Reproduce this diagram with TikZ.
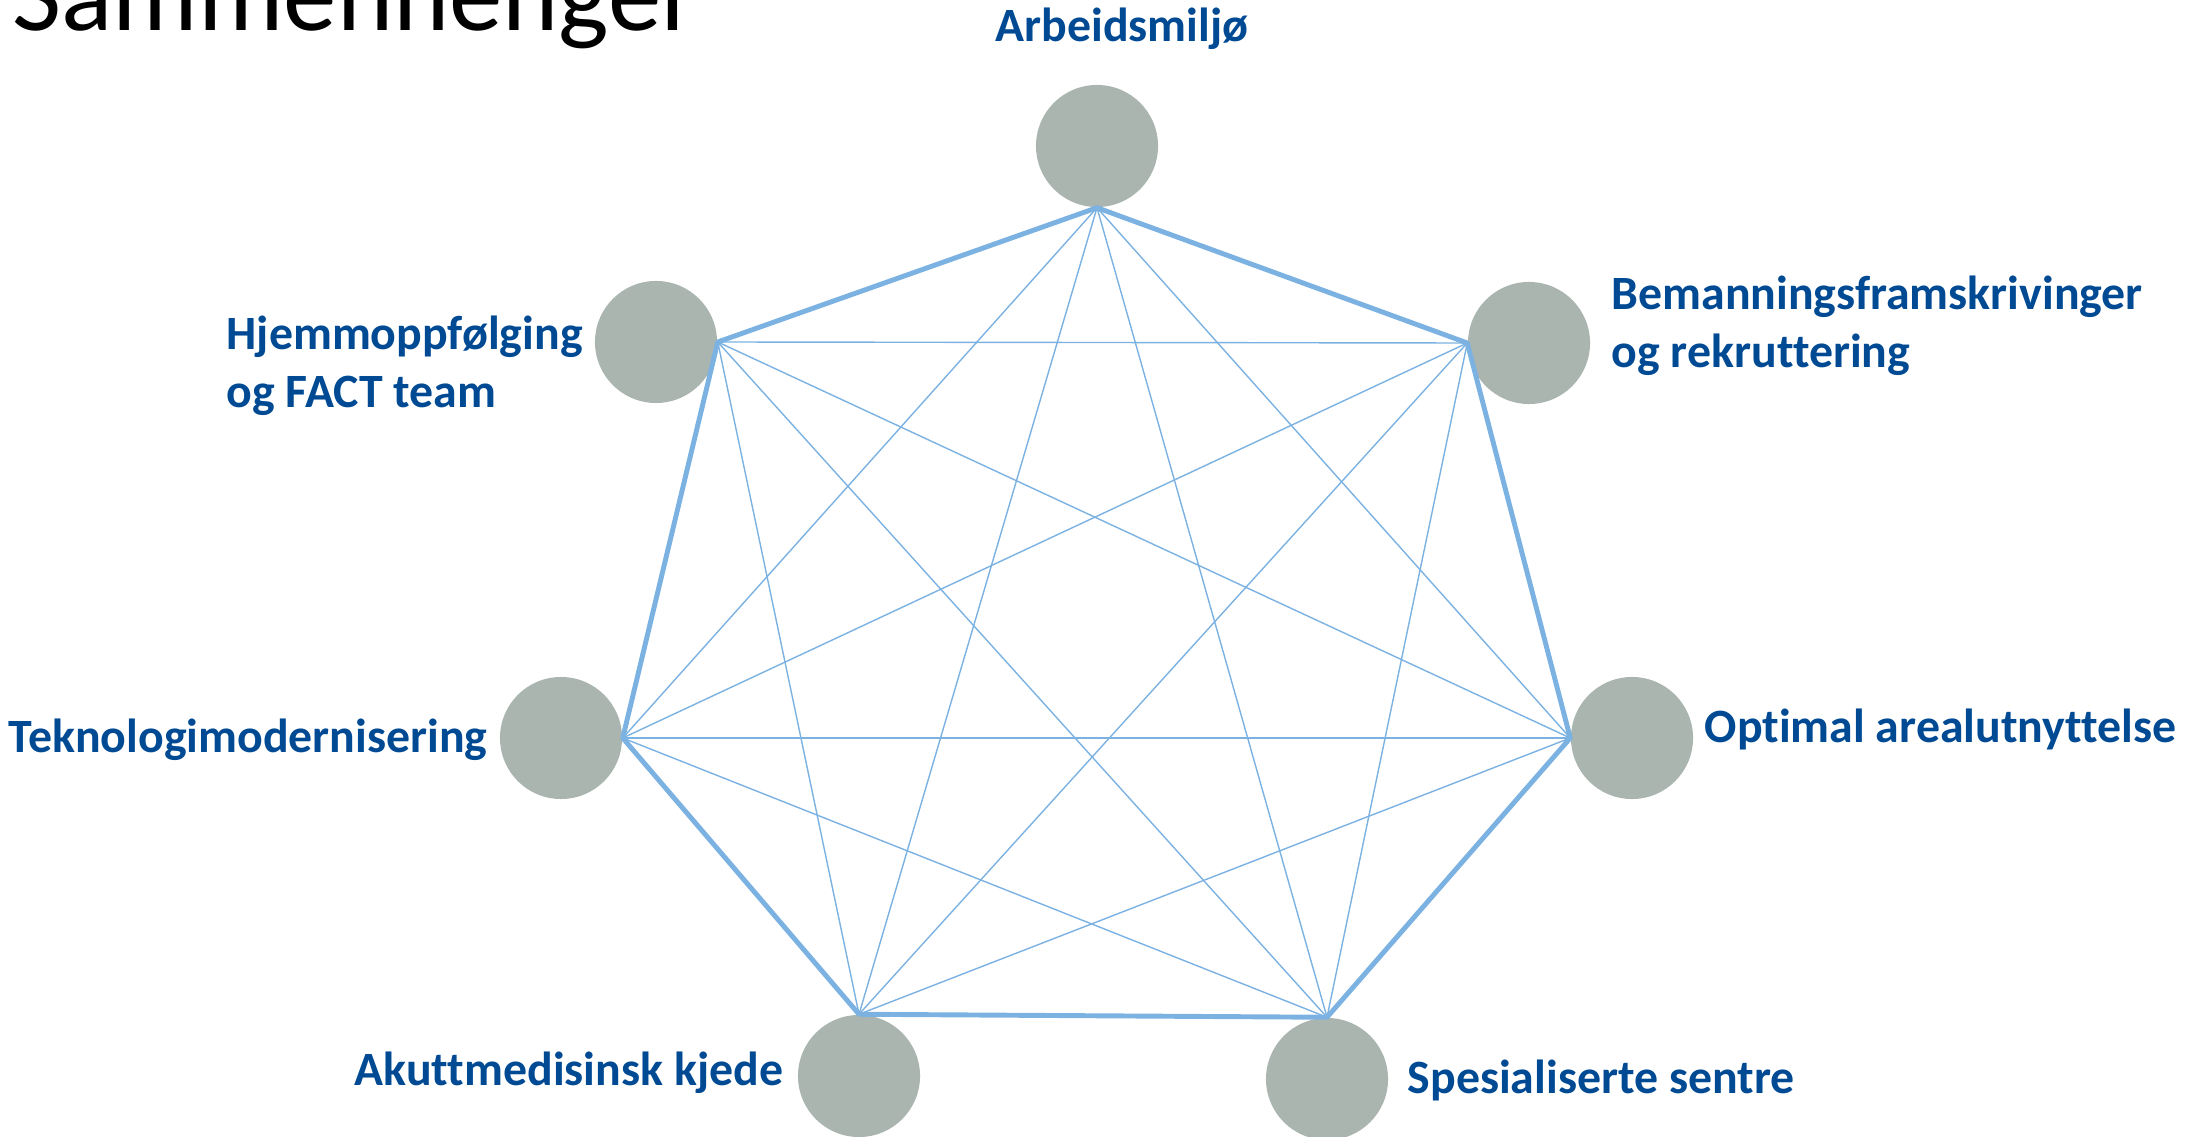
\documentclass[tikz,border=0pt]{standalone}
\usepackage{fontspec}
\setmainfont{Carlito}[Ligatures=NoCommon]
\definecolor{hsblue}{RGB}{0,74,148}
\definecolor{hsgrey}{RGB}{170,181,176}
\definecolor{hsline}{RGB}{124,178,226}

\begin{document}
\begin{tikzpicture}[
      x=0.01cm, y=-0.01cm,
      topic/.style={circle, fill=hsgrey, minimum size=1.22cm, inner sep=0pt},
      tag/.style={anchor=base west, inner sep=0pt, align=left, text=hsblue,
                  font=\bfseries\fontsize{13.6}{16.5}\selectfont},
      rim/.style={hsline, line width=1.4pt, line join=round},
      link/.style={hsline, line width=0.4pt}
    ]
    \useasboundingbox (0,0) rectangle (2197,1137);

    \node[anchor=base west, inner sep=0pt, font=\fontsize{30.4}{36}\selectfont]
      (title) at (12,31) {Sammenhenger};

    % the seven topics
    \node[topic] (arb)   at (1097,146) {};
    \node[topic] (bem)   at (1529,343) {};
    \node[topic] (opt)   at (1632,738) {};
    \node[topic] (spes)  at (1327,1079) {};
    \node[topic] (akutt) at (859,1076) {};
    \node[topic] (tek)   at (561,738) {};
    \node[topic] (hjem)  at (656,342) {};

    % base of a two-line tag is its last line
    \node[tag] (arbl)   at (995,42)    {Arbeidsmiljø};
    \node[tag] (beml)   at (1611,368)  {Bemanningsframskrivinger\\og rekruttering};
    \node[tag] (optl)   at (1704,742)  {Optimal arealutnyttelse};
    \node[tag] (spesl)  at (1407,1093) {Spesialiserte sentre};
    \node[tag] (akuttl) at (354,1085)  {Akuttmedisinsk kjede};
    \node[tag] (tekl)   at (8,752)     {Teknologimodernisering};
    \node[tag] (hjeml)  at (226,408)   {Hjemmoppfølging\\og FACT team};

    % corners where the lines meet
    \coordinate (pa) at (arb.south);
    \coordinate (pb) at (bem.west);
    \coordinate (po) at (opt.west);
    \coordinate (ps) at (spes.north);
    \coordinate (pk) at (akutt.north);
    \coordinate (pt) at (tek.east);
    \coordinate (ph) at (hjem.east);

    \foreach \u/\v in {pa/po, pa/ps, pa/pk, pa/pt,
                       pb/ps, pb/pk, pb/pt, pb/ph,
                       po/pk, po/pt, po/ph,
                       ps/pt, ps/ph,
                       pk/ph}
      \draw[link] (\u) -- (\v);

    \draw[rim] (pa) -- (pb) -- (po) -- (ps) -- (pk) -- (pt) -- (ph) -- cycle;
  \end{tikzpicture}
\end{document}
